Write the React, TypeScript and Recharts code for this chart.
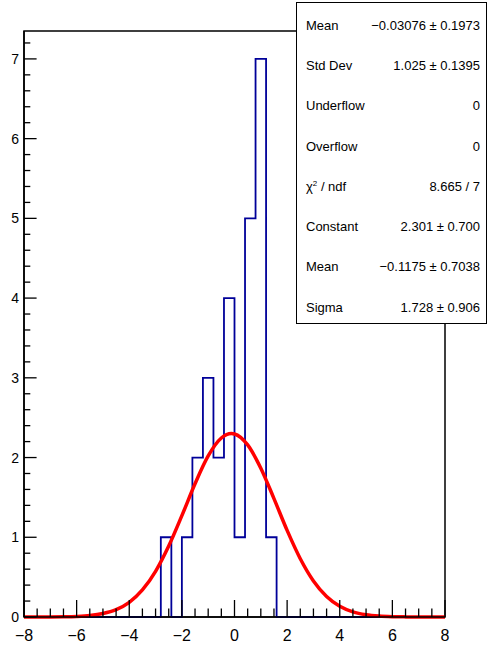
import { ComposedChart, Line, XAxis, YAxis, ReferenceArea } from 'recharts';

// histogram: 40 bins from -8 to 8 (width 0.4)
const binCounts = [
  0, 0, 0, 0, 0, 0, 0, 0, 0, 0,
  0, 0, 0, 1, 0, 1, 2, 3, 2, 4,
  1, 5, 7, 1, 0, 0, 0, 0, 0, 0,
  0, 0, 0, 0, 0, 0, 0, 0, 0, 0,
];
const xMin = -8;
const xMax = 8;
const binWidth = 0.4;

// gaus fit curve
const fitX = [
  -8, -7.5, -7, -6.5, -6, -5.5, -5, -4.5, -4, -3.5, -3, -2.5, -2, -1.5, -1, -0.5,
  -0.1175, 0, 0.5, 1, 1.5, 2, 2.5, 3, 3.5, 4, 4.5, 5, 5.5, 6, 6.5, 7, 7.5, 8,
];
const fitY = [
  0.0001, 0.0003, 0.0008, 0.0025, 0.007, 0.018, 0.043, 0.092, 0.184, 0.339, 0.573, 0.89, 1.271, 1.671, 2.02, 2.245,
  2.301, 2.296, 2.159, 1.867, 1.485, 1.086, 0.731, 0.452, 0.257, 0.135, 0.065, 0.029, 0.012, 0.0044, 0.0015, 0.0005, 0.0001, 0.0,
];

const statLabels = ['Mean', 'Std Dev', 'Underflow', 'Overflow', 'chi2', 'Constant', 'Mean', 'Sigma'];
const statValues = [
  '\u22120.03076 \u00b1 0.1973',
  '1.025 \u00b1 0.1395',
  '0',
  '0',
  '8.665 / 7',
  '2.301 \u00b1 0.700',
  '\u22120.1175 \u00b1 0.7038',
  '1.728 \u00b1 0.906',
];

const yTop = 7.35;
const xTicks = Array.from({ length: 33 }, (_, i) => -8 + i * 0.5);
const yTicks = Array.from({ length: 37 }, (_, i) => Math.round(i * 2) / 10);

const histData = [
  ...binCounts.map((c, i) => ({ x: Math.round((xMin + i * binWidth) * 10) / 10, y: c })),
  { x: xMax, y: 0 },
];
const fitData = fitX.map((x, i) => ({ x, y: fitY[i] }));

const FONT = '"Liberation Sans", Arial, Helvetica, sans-serif';
const fmt = (v: number) => (v < 0 ? '\u2212' + Math.abs(v) : String(v));

const XTick = (props: any) => {
  const { x, y, payload } = props;
  const v = payload.value;
  const major = Math.abs(v % 2) < 1e-6;
  return (
    <g>
      <line x1={x} x2={x} y1={y} y2={y - (major ? 17 : 8.5)} stroke="#000" strokeWidth={1.3} />
      {major && (
        <text x={x} y={y + 24} textAnchor="middle" fontSize={16} fontFamily={FONT} fill="#000">
          {fmt(v)}
        </text>
      )}
    </g>
  );
};

const YTick = (props: any) => {
  const { x, y, payload } = props;
  const v = payload.value;
  const major = Number.isInteger(v);
  return (
    <g>
      <line x1={x} x2={x + (major ? 12.6 : 6.3)} y1={y} y2={y} stroke="#000" strokeWidth={1.3} />
      {major && (
        <text x={x - 5} y={y + 5} textAnchor="end" fontSize={14} fontFamily={FONT} fill="#000">
          {v}
        </text>
      )}
    </g>
  );
};

export default function App() {
  return (
    <div style={{ position: 'absolute', left: 0, top: 0, width: 487, height: 645, background: '#fff' }}>
      <ComposedChart width={487} height={645} margin={{ top: 31, right: 42, left: 0, bottom: 0 }}>
        <XAxis
          type="number"
          dataKey="x"
          domain={[xMin, xMax]}
          ticks={xTicks}
          interval={0}
          height={28}
          tickSize={0}
          tickMargin={0}
          tickLine={false}
          tick={<XTick />}
          axisLine={{ stroke: '#000', strokeWidth: 1.5 }}
        />
        <YAxis
          type="number"
          domain={[0, yTop]}
          ticks={yTicks}
          interval={0}
          width={24}
          tickSize={0}
          tickMargin={0}
          tickLine={false}
          tick={<YTick />}
          axisLine={{ stroke: '#000', strokeWidth: 1.5 }}
        />
        <ReferenceArea x1={xMin} x2={xMax} y1={0} y2={yTop} fill="none" stroke="#000" strokeWidth={1.5} ifOverflow="visible" />
        <Line
          data={histData}
          dataKey="y"
          type="stepAfter"
          stroke="#000099"
          strokeWidth={1.8}
          dot={false}
          activeDot={false}
          isAnimationActive={false}
        />
        <Line
          data={fitData}
          dataKey="y"
          type="monotone"
          stroke="#ff0000"
          strokeWidth={3.5}
          dot={false}
          activeDot={false}
          isAnimationActive={false}
        />
      </ComposedChart>
      <div
        style={{
          position: 'absolute',
          left: 296,
          top: 2,
          width: 191,
          height: 322,
          boxSizing: 'border-box',
          border: '1.5px solid #000',
          background: '#fff',
          fontFamily: FONT,
          fontSize: 13,
          color: '#000',
        }}
      >
        {statLabels.map((label, i) => (
          <div
            key={i}
            style={{
              position: 'absolute',
              left: 9,
              right: 6,
              top: 13 + i * 40.24,
              height: 20,
              lineHeight: '20px',
              display: 'flex',
              justifyContent: 'space-between',
            }}
          >
            <span>
              {label === 'chi2' ? (
                <>
                  {'\u03c7'}
                  <span style={{ fontSize: 8, position: 'relative', top: -5 }}>2</span>
                  {' / ndf'}
                </>
              ) : (
                label
              )}
            </span>
            <span>{statValues[i]}</span>
          </div>
        ))}
      </div>
    </div>
  );
}
